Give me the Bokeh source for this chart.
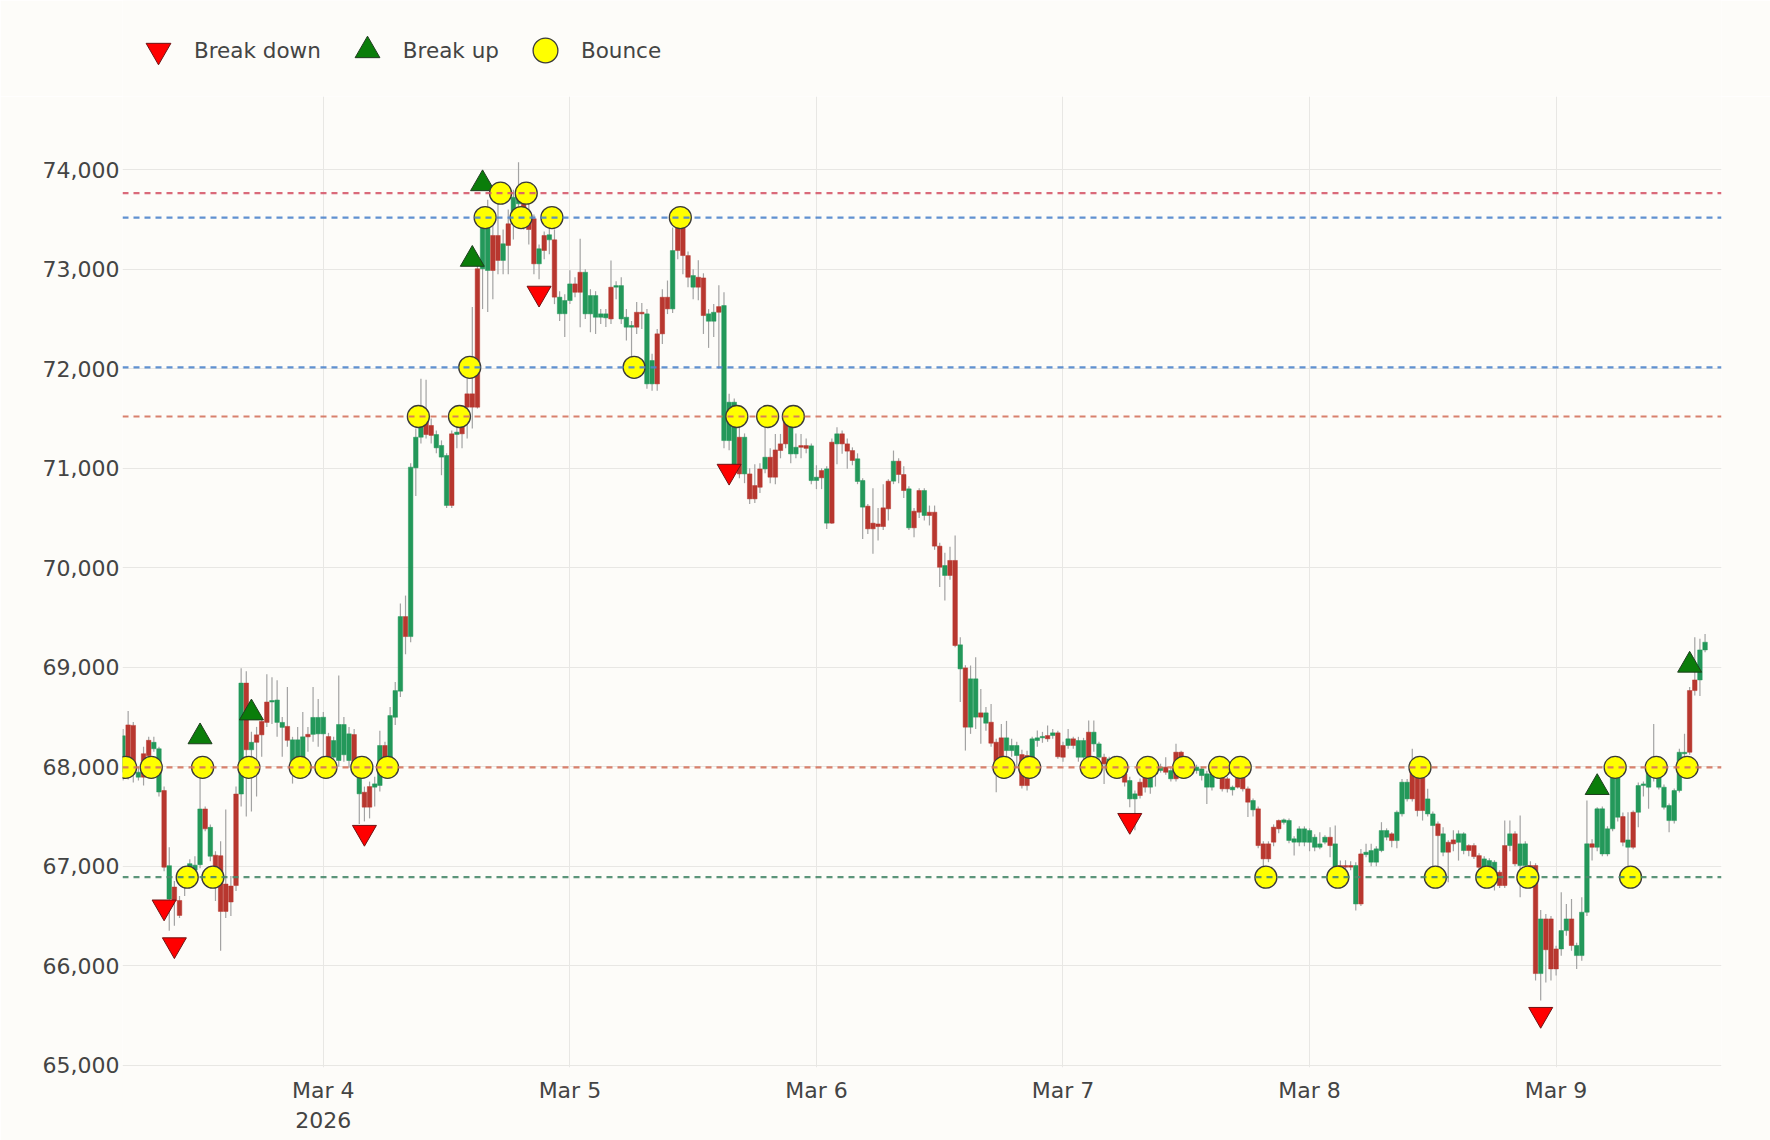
from datetime import datetime, timedelta
from bokeh.plotting import figure
from bokeh.layouts import column
from bokeh.models import (ColumnDataSource, Range1d, FixedTicker, NumeralTickFormatter,
                          Span, Legend, LegendItem)
from bokeh.embed import file_html
from bokeh.resources import INLINE

# ---------------- data ----------------
FIRST_CANDLE = "2026-03-03 04:30"
CANDLE_MINUTES = 30

open_ = [67945, 68420, 68415, 67895, 68130, 68265, 68180, 67745, 67760, 66670,
         66790, 66655, 66790, 66955, 66960, 67015, 67575, 67100, 67110, 67105,
         66820, 66800, 67725, 67725, 68840, 68170, 68320, 68455, 68650, 68650,
         68445, 68395, 68405, 67995, 68030, 68080, 68325, 68325, 68330, 68330,
         68303, 68095, 68062, 68120, 68062, 68323, 67727, 67743, 67800, 67794,
         67811, 68213, 68095, 68497, 68759, 69509, 69308, 71004, 71312, 71530,
         71430, 71205, 71112, 70626, 71346, 71340, 71430, 71748, 71748, 73005,
         73005, 72988, 73340, 73340, 73089, 73457, 73457, 73658, 73675, 73560,
         73508, 73055, 73340, 73296, 73296, 72553, 72553, 72686, 72853, 72970,
         72552, 72552, 72518, 72518, 72512, 72820, 72820, 72501, 72418, 72418,
         72568, 72568, 71848, 71848, 72351, 72719, 72719, 72602, 73440, 73423,
         73138, 72820, 72920, 72913, 72478, 72478, 72625, 71278, 71278, 71010,
         71312, 70943, 70943, 70826, 70993, 70993, 71111, 71184, 71245, 71496,
         71144, 71144, 71228, 71228, 70876, 70877, 70977, 70448, 71262, 71245,
         71346, 71245, 71178, 70867, 70609, 70619, 70448, 70440, 70602, 70870,
         70870, 71071, 70937, 70401, 70568, 70776, 70525, 70558, 70558, 70217,
         69922, 70073, 70073, 68983, 68993, 68397, 68498, 68541, 68437, 68447,
         68246, 68290, 68162, 68162, 68112, 68122, 68112, 68012, 68263, 68290,
         68313, 68313, 68340, 68213, 68213, 68280, 68095, 68095, 68347, 68229,
         68095, 68095, 68028, 67978, 68028, 67928, 67676, 67676, 67844, 67894,
         67794, 67928, 67961, 67995, 67878, 68146, 68146, 68062, 67978, 67961,
         67911, 67794, 67794, 67911, 67894, 67878, 67767, 67928, 67894, 67777,
         67566, 67576, 67224, 67224, 67392, 67459, 67440, 67258, 67241, 67241,
         67241, 67240, 67190, 67190, 67241, 67291, 66989, 67006, 67006, 67006,
         66620, 67123, 67116, 67040, 67040, 67157, 67291, 67325, 67257, 67526,
         67676, 67961, 67994, 67894, 67525, 67408, 67425, 67140, 67240, 67264,
         67240, 67157, 67207, 67207, 67106, 66989, 66989, 66838, 66939, 67207,
         67207, 67325, 67006, 67006, 67006, 67006, 65920, 66470, 66470, 66168,
         66168, 66352, 66470, 66101, 66101, 66537, 67224, 67190, 67123, 67123,
         67375, 67492, 67498, 67190, 67542, 67542, 67810, 67794, 67894, 67794,
         67592, 67458, 67458, 67760, 68130, 68765, 68872, 68872, 69174]

high = [68380, 68560, 68450, 68000, 68200, 68300, 68300, 68200, 67800, 67190,
        66850, 66700, 67000, 67070, 67100, 67995, 67600, 67420, 67150, 67250,
        67570, 66900, 67800, 68990, 68960, 68350, 68400, 68500, 68930, 68900,
        68870, 68500, 68800, 68300, 68400, 68550, 68400, 68800, 68680, 68550,
        68340, 68300, 68916, 68500, 68400, 68380, 67950, 67800, 67850, 67900,
        68360, 68250, 68600, 68850, 69640, 69720, 71050, 71400, 71900, 71890,
        71500, 71380, 71280, 71150, 71380, 71450, 71520, 71900, 72620, 73100,
        73600, 73700, 73500, 73700, 73400, 73600, 73800, 74077, 73850, 73700,
        73550, 73250, 73380, 73560, 73400, 72780, 72750, 72990, 72920, 73306,
        73000, 72800, 72780, 72600, 72600, 73088, 72880, 72920, 72600, 72480,
        72670, 72660, 72600, 72150, 72400, 72800, 72887, 73420, 73520, 73450,
        73180, 73000, 73090, 72960, 72600, 72650, 72840, 72770, 71750, 71700,
        71500, 71350, 71000, 71040, 71050, 71496, 71200, 71345, 71345, 71600,
        71550, 71350, 71345, 71300, 71250, 71030, 71000, 71020, 71300, 71413,
        71380, 71300, 71210, 71150, 70900, 70640, 70800, 70600, 70840, 70890,
        71178, 71100, 71020, 70820, 70600, 70800, 70800, 70625, 70625, 70250,
        70150, 70210, 70324, 69300, 69020, 69017, 69100, 68780, 68600, 68630,
        68280, 68430, 68460, 68280, 68250, 68170, 68160, 68300, 68364, 68350,
        68414, 68380, 68360, 68250, 68380, 68300, 68300, 68290, 68464, 68464,
        68250, 68130, 68100, 68110, 68095, 67960, 67900, 67760, 67880, 67930,
        67960, 68000, 68030, 68095, 67990, 68230, 68160, 68080, 68050, 68020,
        68000, 67960, 67950, 68020, 67930, 67900, 67810, 67960, 68078, 67800,
        67680, 67600, 67250, 67250, 67420, 67470, 67480, 67480, 67300, 67400,
        67400, 67380, 67320, 67341, 67310, 67391, 67408, 67056, 67060, 67050,
        67040, 67173, 67224, 67224, 67200, 67442, 67380, 67340, 67560, 67877,
        67877, 68179, 68020, 67920, 67777, 67550, 67450, 67391, 67260, 67360,
        67360, 67340, 67220, 67230, 67130, 67100, 67080, 67060, 66960, 67458,
        67458, 67350, 67508, 67250, 67050, 67030, 66560, 66520, 66500, 66200,
        66738, 66620, 66671, 66230, 66688, 67660, 67270, 67593, 67600, 67400,
        68030, 68030, 67540, 67542, 67560, 67840, 67850, 68030, 68430, 67920,
        67820, 67630, 67780, 68180, 68330, 68800, 69302, 69285, 69335]

low = [67860, 67870, 67840, 67860, 67810, 68050, 68150, 67700, 66950, 66350,
       66400, 66480, 66700, 66900, 66950, 66980, 67350, 67050, 66650, 66150,
       66480, 66500, 66750, 67600, 67500, 67550, 67700, 68100, 68400, 68430,
       68300, 68100, 68200, 67830, 67900, 67950, 68150, 68250, 68200, 68100,
       67950, 68000, 68000, 68050, 67990, 67950, 67425, 67450, 67480, 67600,
       67750, 68000, 68050, 68420, 68700, 69130, 69250, 70720, 71250, 71300,
       71250, 71150, 70930, 70600, 70600, 71200, 71200, 71300, 71400, 71600,
       72600, 72570, 72700, 72950, 72950, 72950, 73300, 73500, 73400, 73250,
       72950, 72900, 73100, 73150, 72650, 72480, 72320, 72650, 72720, 72418,
       72500, 72367, 72350, 72450, 72420, 72450, 72700, 72450, 72283, 72082,
       72350, 72400, 71798, 71780, 71780, 72250, 72550, 72560, 73100, 72950,
       72820, 72700, 72690, 72350, 72210, 72320, 71999, 71200, 71180, 70950,
       70900, 70850, 70640, 70650, 70750, 70950, 70850, 70840, 71100, 71200,
       71050, 71100, 71100, 71150, 70840, 70790, 70790, 70390, 70440, 71040,
       71145, 70994, 71030, 70840, 70290, 70340, 70140, 70274, 70380, 70475,
       70840, 70850, 70700, 70380, 70307, 70500, 70475, 70425, 70180, 69805,
       69670, 69880, 69200, 68650, 68162, 68330, 68380, 68230, 68360, 68200,
       67743, 67950, 68100, 68100, 67990, 67780, 67760, 67950, 68200, 68240,
       68250, 68280, 68080, 68050, 68180, 68180, 68050, 68030, 68000, 68150,
       68050, 67827, 67980, 67950, 67880, 67800, 67593, 67360, 67680, 67740,
       67727, 67800, 67940, 67920, 67850, 67850, 67940, 67950, 67950, 67930,
       67860, 67626, 67760, 67880, 67750, 67740, 67710, 67780, 67750, 67493,
       67500, 67180, 66990, 67040, 67200, 67330, 67420, 67230, 67106, 67200,
       67200, 67150, 67150, 67170, 67220, 67090, 66788, 66950, 66950, 66960,
       66553, 66600, 67090, 67000, 67000, 67140, 67260, 67190, 67180, 67500,
       67650, 67650, 67500, 67458, 67500, 66889, 66889, 67100, 66838, 67150,
       67056, 67120, 67100, 67073, 66950, 66788, 66950, 66755, 66780, 66780,
       67150, 67000, 66688, 66950, 66850, 65850, 65650, 65830, 65850, 65900,
       66100, 66300, 66150, 65967, 66050, 66500, 67056, 67150, 67100, 67100,
       67350, 67450, 67200, 66889, 67170, 67392, 67700, 67576, 67850, 67770,
       67570, 67341, 67430, 67740, 68100, 68120, 68715, 68710, 69150]

close = [68310, 67895, 67945, 67945, 67895, 68110, 68245, 68180, 66990, 67005,
         66655, 66505, 66955, 67025, 67010, 67575, 67375, 67390, 66910, 66545,
         66545, 66640, 66805, 68840, 68170, 68245, 68245, 68320, 68445, 68665,
         68670, 68445, 68265, 68270, 68270, 68300, 68300, 68495, 68495, 68497,
         68079, 68263, 68424, 68424, 68330, 68011, 67894, 67593, 67593, 67827,
         68213, 68095, 68514, 68765, 69509, 69308, 71011, 71312, 71513, 71339,
         71330, 71339, 71229, 71128, 70626, 71363, 71346, 71614, 71614, 71614,
         73508, 73440, 72988, 73089, 73256, 73240, 73725, 73725, 73560, 73400,
         73055, 73206, 73189, 73347, 72720, 72720, 72686, 72853, 72769, 72769,
         72970, 72736, 72736, 72552, 72552, 72501, 72836, 72836, 72518, 72435,
         72418, 72552, 72552, 72083, 71848, 72351, 72602, 73188, 73188, 73138,
         72920, 72937, 72820, 72535, 72552, 72568, 72568, 72635, 71664, 71664,
         70943, 71312, 70692, 70692, 70809, 71111, 70910, 70910, 71178, 71245,
         71496, 71211, 71211, 71200, 71225, 70910, 70904, 70994, 70448, 71346,
         71245, 71172, 71078, 71095, 70877, 70391, 70391, 70414, 70414, 70592,
         71071, 70937, 70776, 70793, 70401, 70558, 70776, 70525, 70217, 70005,
         70022, 69922, 69218, 69225, 68397, 68883, 68883, 68498, 68541, 68236,
         67978, 68028, 68290, 68213, 68213, 67810, 67810, 68280, 68290, 68304,
         68280, 68340, 68100, 68095, 68280, 68213, 68263, 68263, 68095, 68347,
         68229, 68028, 68078, 68062, 67911, 67844, 67861, 67727, 67710, 67794,
         67928, 67961, 67995, 67944, 67961, 67878, 67978, 67978, 68028, 67995,
         67978, 67928, 67928, 67978, 67777, 67777, 67794, 67794, 67777, 67643,
         67660, 67207, 67073, 67073, 67241, 67375, 67465, 67459, 67275, 67375,
         67375, 67358, 67291, 67224, 67291, 67207, 67224, 66990, 66990, 66990,
         67006, 66620, 67140, 67157, 67174, 67358, 67358, 67257, 67542, 67844,
         67844, 67676, 67559, 67559, 67676, 67525, 67307, 67325, 67140, 67224,
         67325, 67325, 67157, 67096, 66989, 67073, 67056, 67040, 66805, 66805,
         67325, 67023, 67224, 67224, 66889, 65920, 66470, 66160, 65967, 65967,
         66352, 66470, 66202, 66202, 66537, 67224, 67190, 67576, 67576, 67375,
         67995, 67995, 67241, 67264, 67190, 67810, 67827, 67995, 67995, 67894,
         67794, 67609, 67760, 68145, 68145, 68145, 68765, 69174, 69251]

# support / resistance levels
level_prices = [73765, 73520, 72015, 71520, 67993, 66889]
level_colors = ["#d65a6c", "#4f85cc", "#4f85cc", "#d4735d", "#d4735d", "#4a8a6c"]

# signal markers
break_down_time = ["2026-03-03 08:30", "2026-03-03 09:30", "2026-03-04 04:00",
                   "2026-03-04 21:00", "2026-03-05 15:30", "2026-03-07 06:30",
                   "2026-03-08 22:30"]
break_down_price = [66590, 66210, 67340, 72760, 70970, 67460, 65510]

break_up_time = ["2026-03-03 12:00", "2026-03-03 17:00", "2026-03-04 14:30",
                 "2026-03-04 15:30", "2026-03-09 04:00", "2026-03-09 13:00"]
break_up_price = [68300, 68540, 73100, 73860, 67790, 69020]

bounce_time = ["2026-03-03 04:45", "2026-03-03 07:15", "2026-03-03 12:15",
               "2026-03-03 16:45", "2026-03-03 21:45", "2026-03-04 00:15",
               "2026-03-04 03:45", "2026-03-04 06:15", "2026-03-06 18:15",
               "2026-03-06 20:45", "2026-03-07 02:45", "2026-03-07 05:15",
               "2026-03-07 08:15", "2026-03-07 11:45", "2026-03-07 15:15",
               "2026-03-07 17:15", "2026-03-08 10:45", "2026-03-09 05:45",
               "2026-03-09 09:45", "2026-03-09 12:45",
               "2026-03-03 10:45", "2026-03-03 13:15", "2026-03-07 19:45",
               "2026-03-08 02:45", "2026-03-08 12:15", "2026-03-08 17:15",
               "2026-03-08 21:15", "2026-03-09 07:15",
               "2026-03-04 09:15", "2026-03-04 13:15", "2026-03-05 16:15",
               "2026-03-05 19:15", "2026-03-05 21:45",
               "2026-03-04 14:15", "2026-03-05 06:15",
               "2026-03-04 15:45", "2026-03-04 19:15", "2026-03-04 22:15",
               "2026-03-05 10:45",
               "2026-03-04 17:15", "2026-03-04 19:45"]
bounce_price = [67993] * 20 + [66889] * 8 + [71520] * 5 + [72015] * 2 + [73520] * 4 + [73765] * 2

x_tick_dates = ["2026-03-04", "2026-03-05", "2026-03-06", "2026-03-07", "2026-03-08", "2026-03-09"]
x_tick_labels = ["Mar 4\n2026", "Mar 5", "Mar 6", "Mar 7", "Mar 8", "Mar 9"]
y_ticks = [65000, 66000, 67000, 68000, 69000, 70000, 71000, 72000, 73000, 74000]

# ---------------- build ----------------
EPOCH = datetime(1970, 1, 1)


def ms(d):
    return (d - EPOCH).total_seconds() * 1000.0


t0 = datetime.fromisoformat(FIRST_CANDLE)
step = timedelta(minutes=CANDLE_MINUTES)
times = [t0 + step * i for i in range(len(open_))]

GREEN = "#23985a"
RED = "#b8372f"
colors = [GREEN if c > o else RED for o, c in zip(open_, close)]
src = ColumnDataSource(dict(
    t=times, o=open_, h=high, l=low, c=close,
    top=[max(o, c) for o, c in zip(open_, close)],
    bot=[min(o, c) for o, c in zip(open_, close)],
    col=colors,
))

bd_x = [datetime.fromisoformat(s) for s in break_down_time]
bu_x = [datetime.fromisoformat(s) for s in break_up_time]
bo_x = [datetime.fromisoformat(s) for s in bounce_time]

BG = "#fdfcf9"
FONT = "DejaVu Sans"
W = 1770
LEG_H = 96
MAIN_H = 1044
ML, MR, MB = 122, 49, 73

x_start = t0 - timedelta(minutes=3)
x_end = datetime(2026, 3, 9, 16, 6)

p = figure(width=W, height=MAIN_H, x_axis_type="datetime",
           x_range=Range1d(x_start, x_end), y_range=Range1d(64976, 74737),
           output_backend="svg", toolbar_location=None,
           background_fill_color=BG, border_fill_color=BG,
           min_border_left=ML, min_border_right=MR, min_border_top=0,
           min_border_bottom=MB, outline_line_color=None)

# grid
p.xgrid.grid_line_color = "#e8e7e4"
p.ygrid.grid_line_color = "#e8e7e4"
p.xgrid.grid_line_width = 1
p.ygrid.grid_line_width = 1

# candles
p.segment(x0="t", y0="l", x1="t", y1="h", source=src, line_color="#a3a3a3", line_width=1.2)
p.vbar(x="t", width=step.total_seconds() * 1000 * 0.88, top="top", bottom="bot",
       source=src, fill_color="col", line_color="col", line_width=0.5)

# markers
MARK = dict(
    bd=dict(marker="inverted_triangle", size=24, fill_color="#ff0000", line_color="#6e1414", line_width=1),
    bu=dict(marker="triangle", size=24, fill_color="#0a7d0a", line_color="#1f3d1f", line_width=1),
    bo=dict(marker="circle", size=22, fill_color="#ffff00", line_color="#3a3a3a", line_width=1.3),
)
p.scatter(bd_x, break_down_price, **MARK["bd"])
p.scatter(bu_x, break_up_price, **MARK["bu"])
p.scatter(bo_x, bounce_price, **MARK["bo"])

# level lines, drawn over candles and markers as in the reference
for lv, lc in zip(level_prices, level_colors):
    p.add_layout(Span(location=lv, dimension="width", line_color=lc,
                      line_dash="6 5", line_width=2.2, line_alpha=0.9))

# axes
p.xaxis.ticker = FixedTicker(ticks=[ms(datetime.fromisoformat(d)) for d in x_tick_dates])
p.xaxis.major_label_overrides = {ms(datetime.fromisoformat(d)): lab
                                 for d, lab in zip(x_tick_dates, x_tick_labels)}
p.yaxis.ticker = FixedTicker(ticks=y_ticks)
p.yaxis.formatter = NumeralTickFormatter(format="0,0")
for ax in (p.xaxis[0], p.yaxis[0]):
    ax.axis_line_color = None
    ax.major_tick_line_color = None
    ax.minor_tick_line_color = None
    ax.major_tick_out = 0
    ax.major_tick_in = 0
    ax.minor_tick_out = 0
    ax.major_label_text_font = FONT
    ax.major_label_text_font_size = "22px"
    ax.major_label_text_color = "#444444"
p.yaxis.major_label_standoff = 3
p.xaxis.major_label_standoff = 10

# legend strip above the plot (its frame is aligned with the main frame)
lf = figure(width=W, height=LEG_H, x_axis_type="datetime",
            x_range=Range1d(x_start, x_end), y_range=Range1d(0, 1),
            output_backend="svg", toolbar_location=None, min_border=0,
            x_axis_location=None, y_axis_location=None,
            background_fill_color=BG, border_fill_color=BG, outline_line_color=None)
lf.grid.visible = False
# same marker series; their prices lie far outside this strip's 0..1 range, so only
# the legend swatches show
r_bd = lf.scatter(bd_x, break_down_price, **MARK["bd"])
r_bu = lf.scatter(bu_x, break_up_price, **MARK["bu"])
r_bo = lf.scatter(bo_x, bounce_price, **MARK["bo"])
legend = Legend(items=[LegendItem(label="Break down", renderers=[r_bd]),
                       LegendItem(label="Break up", renderers=[r_bu]),
                       LegendItem(label="Bounce", renderers=[r_bo])],
                orientation="horizontal", location=(5, 15),
                glyph_width=62, glyph_height=62, label_standoff=5, spacing=15,
                padding=0, margin=0, border_line_color=None,
                background_fill_alpha=0,
                label_text_font=FONT, label_text_font_size="21.5px",
                label_text_color="#444444")
lf.add_layout(legend, "center")

layout = column(lf, p, spacing=0)
open("out.html", "w").write(file_html(layout, INLINE))
